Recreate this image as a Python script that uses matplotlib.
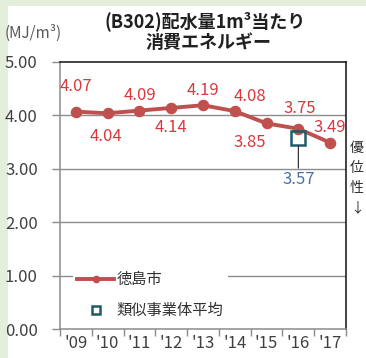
import matplotlib.pyplot as plt
from matplotlib.lines import Line2D

plt.rcParams['font.family'] = ['Noto Sans CJK JP', 'DejaVu Sans']

years = ["'09", "'10", "'11", "'12", "'13", "'14", "'15", "'16", "'17"]
tokushima = [4.07, 4.04, 4.09, 4.14, 4.19, 4.08, 3.85, 3.75, 3.49]
similar_idx = 7
similar_val = 3.57

# label offsets in pixels (up positive)
label_dy = [25, -23, 15, -20, 15, 15, -19, 20, 15]
label_dx = [0, -2, 0, 0, 0, 15, -17, 1, 0]

red_line = '#c0504d'
red_text = '#d9383f'
blue_text = '#4f6fa0'
square_col = '#1f5a6b'
PX = 0.72  # points per pixel at dpi 100

fig = plt.figure(figsize=(3.66, 3.58), dpi=100)
fig.patch.set_facecolor('#e4efdb')
# white panel
fig.patches.append(plt.Rectangle((8 / 366, 0), 1, (358 - 6) / 358,
                                 transform=fig.transFigure, facecolor='white',
                                 edgecolor='none', zorder=-10))

ax = fig.add_axes([60 / 366, 29 / 358, 286 / 366, 267 / 358])
ax.set_facecolor('white')

x = list(range(len(years)))
ax.plot(x, tokushima, color=red_line, lw=2.8, marker='o', ms=7.3,
        zorder=4, solid_capstyle='butt')

for i, v in enumerate(tokushima):
    ax.annotate('%.2f' % v, (x[i], v), xytext=(label_dx[i] * PX, label_dy[i] * PX),
                textcoords='offset points', ha='center', va='center',
                color=red_text, fontsize=12, zorder=6)

ax.plot([similar_idx], [similar_val], marker='s', ms=10, mfc='none',
        mec=square_col, mew=1.8, ls='none', zorder=5)
ax.annotate('%.2f' % similar_val, (similar_idx, similar_val),
            xytext=(0, -41 * PX), textcoords='offset points', ha='center', va='center',
            color=blue_text, fontsize=12, zorder=6,
            arrowprops=dict(arrowstyle='-', color='#202020', lw=0.8,
                            shrinkA=0, shrinkB=5.5))

ax.set_ylim(0, 5)
ax.set_xlim(-0.5, len(years) - 0.5)
ax.set_yticks([0, 1, 2, 3, 4, 5])
ax.set_yticklabels(['0.00', '1.00', '2.00', '3.00', '4.00', '5.00'])
for yv in [1, 2, 3, 4]:
    ax.axhline(yv, color='#8c8c8c', lw=1.0, zorder=1)

ax.set_xticks([i + 0.5 for i in range(-1, len(years))], minor=False)
ax.set_xticklabels([''] * (len(years) + 1))
ax.set_xticks(x, minor=True)
ax.set_xticklabels(years, minor=True)
ax.tick_params(axis='x', which='major', length=5, color='#8c8c8c', width=1.0)
ax.tick_params(axis='x', which='minor', length=0, pad=4, labelsize=12,
               labelcolor='#404040')
ax.tick_params(axis='y', length=6, color='#8c8c8c', width=1.0, pad=10,
               labelsize=12, labelcolor='#404040')

ax.spines['left'].set_color('#8c8c8c')
ax.spines['bottom'].set_color('#8c8c8c')
ax.spines['top'].set_color('#111111')
ax.spines['right'].set_color('#111111')
for s in ax.spines.values():
    s.set_linewidth(1.1)

handles = [
    Line2D([], [], color=red_line, lw=2.8, marker='o', ms=4.5),
    Line2D([], [], color=square_col, marker='s', ms=5.5, mfc='none', mew=1.8, ls='none'),
]
leg = ax.legend(handles, ['徳島市', '類似事業体平均'], loc='lower left',
                bbox_to_anchor=(0.045, 0.02), frameon=True, fontsize=11,
                handlelength=2.4, handletextpad=0.15, labelspacing=0.9,
                borderpad=0.3, borderaxespad=0)
leg.get_frame().set_facecolor('white')
leg.get_frame().set_edgecolor('none')
leg.get_frame().set_alpha(1)
leg.set_zorder(3)
for t in leg.get_texts():
    t.set_color('#303030')

fig.text(205 / 366, 1 - 21 / 358, '(B302)配水量1m³当たり',
         ha='center', va='center', fontsize=13, fontweight='bold', color='#202020')
fig.text(208 / 366, 1 - 43 / 358, '消費エネルギー',
         ha='center', va='center', fontsize=13, fontweight='bold', color='#202020')
fig.text(5 / 366, 1 - 33 / 358, '(MJ/m³)', ha='left', va='center',
         fontsize=11, color='#595959')
fig.text(357 / 366, 1 - 178 / 358, '優\n位\n性\n↓', ha='center', va='center',
         fontsize=10, color='#303030', linespacing=1.55)

fig.savefig('out.png', dpi=100, facecolor=fig.get_facecolor())
